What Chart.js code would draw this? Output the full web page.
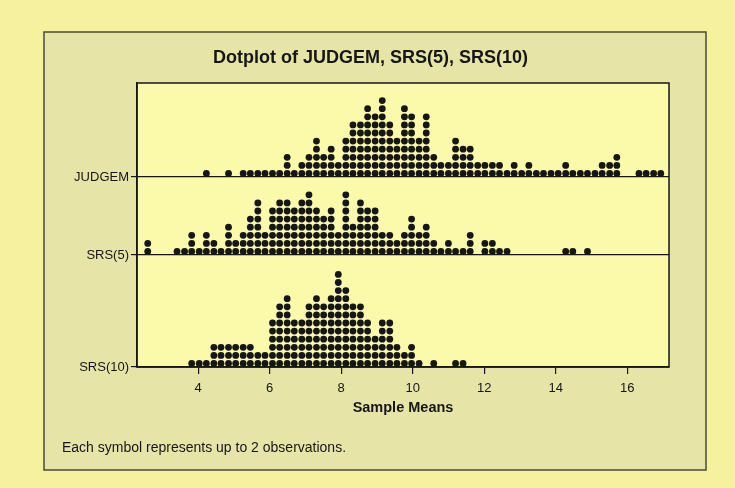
<!DOCTYPE html>
<html>
<head>
<meta charset="utf-8">
<script src="https://cdn.jsdelivr.net/npm/chart.js@4.4.1/dist/chart.umd.min.js"></script>
<style>
  html, body { margin: 0; padding: 0; background: #f5f19e; }
  #wrap { width: 735px; height: 488px; }
</style>
</head>
<body>
<div id="wrap"><canvas id="dotplot" width="735" height="488"></canvas></div>
<script>
// bin centres (Sample Means) used by the dotplot
const bins = [2.59, 2.80, 3.00, 3.21, 3.41, 3.62, 3.82, 4.03, 4.23, 4.44,
              4.64, 4.85, 5.05, 5.26, 5.46, 5.67, 5.87, 6.08, 6.28, 6.49,
              6.69, 6.90, 7.10, 7.31, 7.51, 7.72, 7.92, 8.13, 8.33, 8.54,
              8.74, 8.95, 9.15, 9.36, 9.56, 9.77, 9.97, 10.18, 10.38, 10.59,
              10.79, 11.00, 11.20, 11.41, 11.61, 11.82, 12.02, 12.23, 12.43, 12.64,
              12.84, 13.05, 13.25, 13.46, 13.66, 13.87, 14.07, 14.28, 14.48, 14.69,
              14.89, 15.10, 15.30, 15.51, 15.71, 15.92, 16.12, 16.33, 16.53, 16.74,
              16.94];

// number of symbols stacked in each bin
const judgem = [0, 0, 0, 0, 0, 0, 0, 0, 1, 0,
                0, 1, 0, 1, 1, 1, 1, 1, 1, 3,
                1, 2, 3, 5, 3, 4, 2, 5, 7, 7,
                9, 8, 10, 7, 5, 9, 8, 5, 8, 3,
                2, 2, 5, 4, 4, 2, 2, 2, 2, 1,
                2, 1, 2, 1, 1, 1, 1, 2, 1, 1,
                1, 1, 2, 2, 3, 0, 0, 1, 1, 1,
                1];
const srs5 = [2, 0, 0, 0, 1, 1, 3, 1, 3, 2,
              1, 4, 2, 3, 5, 7, 3, 6, 7, 7,
              6, 7, 8, 6, 5, 6, 3, 8, 4, 7,
              6, 6, 3, 3, 2, 3, 5, 3, 4, 2,
              1, 2, 1, 1, 3, 0, 2, 2, 1, 1,
              0, 0, 0, 0, 0, 0, 0, 1, 1, 0,
              1, 0, 0, 0, 0, 0, 0, 0, 0, 0,
              0];
const srs10 = [0, 0, 0, 0, 0, 0, 1, 1, 1, 3,
               3, 3, 3, 3, 3, 2, 2, 6, 8, 9,
               6, 6, 8, 9, 8, 9, 12, 10, 8, 8,
               6, 4, 6, 6, 3, 2, 3, 1, 0, 1,
               0, 0, 1, 1, 0, 0, 0, 0, 0, 0,
               0, 0, 0, 0, 0, 0, 0, 0, 0, 0,
               0, 0, 0, 0, 0, 0, 0, 0, 0, 0,
               0];

const rowLabels = ['SRS(10)', 'SRS(5)', 'JUDGEM'];
const xTicks = [4, 6, 8, 10, 12, 14, 16];

// row baselines, measured in symbol heights from the bottom axis
const rowBase = [0, 13.83, 23.46];
const font = '"Liberation Sans", Arial, sans-serif';
const ink = '#161616';

function stack(counts, base) {
    const pts = [];
    counts.forEach((n, i) => {
        for (let j = 0; j < n; j++) pts.push({ x: bins[i], y: base + 0.43 + j });
    });
    return pts;
}

const frame = {
    id: 'frame',
    beforeDraw(chart) {
        const { ctx, chartArea: a } = chart;
        ctx.save();
        ctx.fillStyle = '#f5f19e';
        ctx.fillRect(0, 0, chart.width, chart.height);
        ctx.fillStyle = '#e7e4a7';
        ctx.fillRect(44, 32, 662, 438);
        ctx.strokeStyle = '#4a4a3c';
        ctx.lineWidth = 1.5;
        ctx.strokeRect(44, 32, 662, 438);
        ctx.fillStyle = '#fbf9aa';
        ctx.fillRect(a.left, a.top, a.right - a.left, a.bottom - a.top);
        ctx.restore();
    },
    afterDraw(chart) {
        const { ctx, chartArea: a } = chart;
        ctx.save();
        ctx.strokeStyle = ink;
        ctx.lineWidth = 1.5;
        ctx.strokeRect(a.left, a.top, a.right - a.left, a.bottom - a.top);
        ctx.fillStyle = ink;
        ctx.font = '14px ' + font;
        ctx.textBaseline = 'middle';
        ctx.fillText('Each symbol represents up to 2 observations.', 62, 448);
        ctx.restore();
    }
};

new Chart(document.getElementById('dotplot'), {
    type: 'scatter',
    data: {
        datasets: [
            { label: 'JUDGEM', data: stack(judgem, rowBase[2]) },
            { label: 'SRS(5)', data: stack(srs5, rowBase[1]) },
            { label: 'SRS(10)', data: stack(srs10, rowBase[0]) }
        ]
    },
    options: {
        responsive: false,
        animation: false,
        devicePixelRatio: 1,
        layout: { padding: { left: 72, right: 66, top: 0, bottom: 0 } },
        elements: {
            point: { radius: 3.4, hoverRadius: 3.4, backgroundColor: ink, borderWidth: 0 }
        },
        plugins: {
            legend: { display: false },
            tooltip: { enabled: false },
            title: {
                display: true,
                text: 'Dotplot of JUDGEM, SRS(5), SRS(10)',
                color: ink,
                font: { family: font, size: 18, weight: 'bold' },
                padding: { top: 47, bottom: 14.4 }
            }
        },
        scales: {
            x: {
                type: 'linear',
                min: 2.29,
                max: 17.17,
                afterBuildTicks: s => { s.ticks = xTicks.map(v => ({ value: v })); },
                afterFit: s => { s.height = 121; },
                grid: { drawOnChartArea: false, drawTicks: true, tickLength: 7, color: ink, lineWidth: 1.2 },
                border: { display: true, color: ink, width: 1.5 },
                ticks: { color: ink, font: { family: font, size: 13 }, padding: 7, maxRotation: 0 },
                title: {
                    display: true,
                    text: 'Sample Means',
                    color: ink,
                    font: { family: font, size: 14.5, weight: 'bold' },
                    padding: { top: 0, bottom: 71 }
                }
            },
            y: {
                type: 'linear',
                min: 0,
                max: 35.06,
                afterBuildTicks: s => { s.ticks = rowBase.map(v => ({ value: v })); },
                afterFit: s => { s.width = 65; },
                grid: { color: ink, lineWidth: 1.2, tickLength: 6 },
                border: { display: true, color: ink, width: 1.5 },
                ticks: {
                    color: ink,
                    font: { family: font, size: 13 },
                    padding: 2,
                    callback: (v, i) => rowLabels[i]
                }
            }
        }
    },
    plugins: [frame]
});
</script>
</body>
</html>
